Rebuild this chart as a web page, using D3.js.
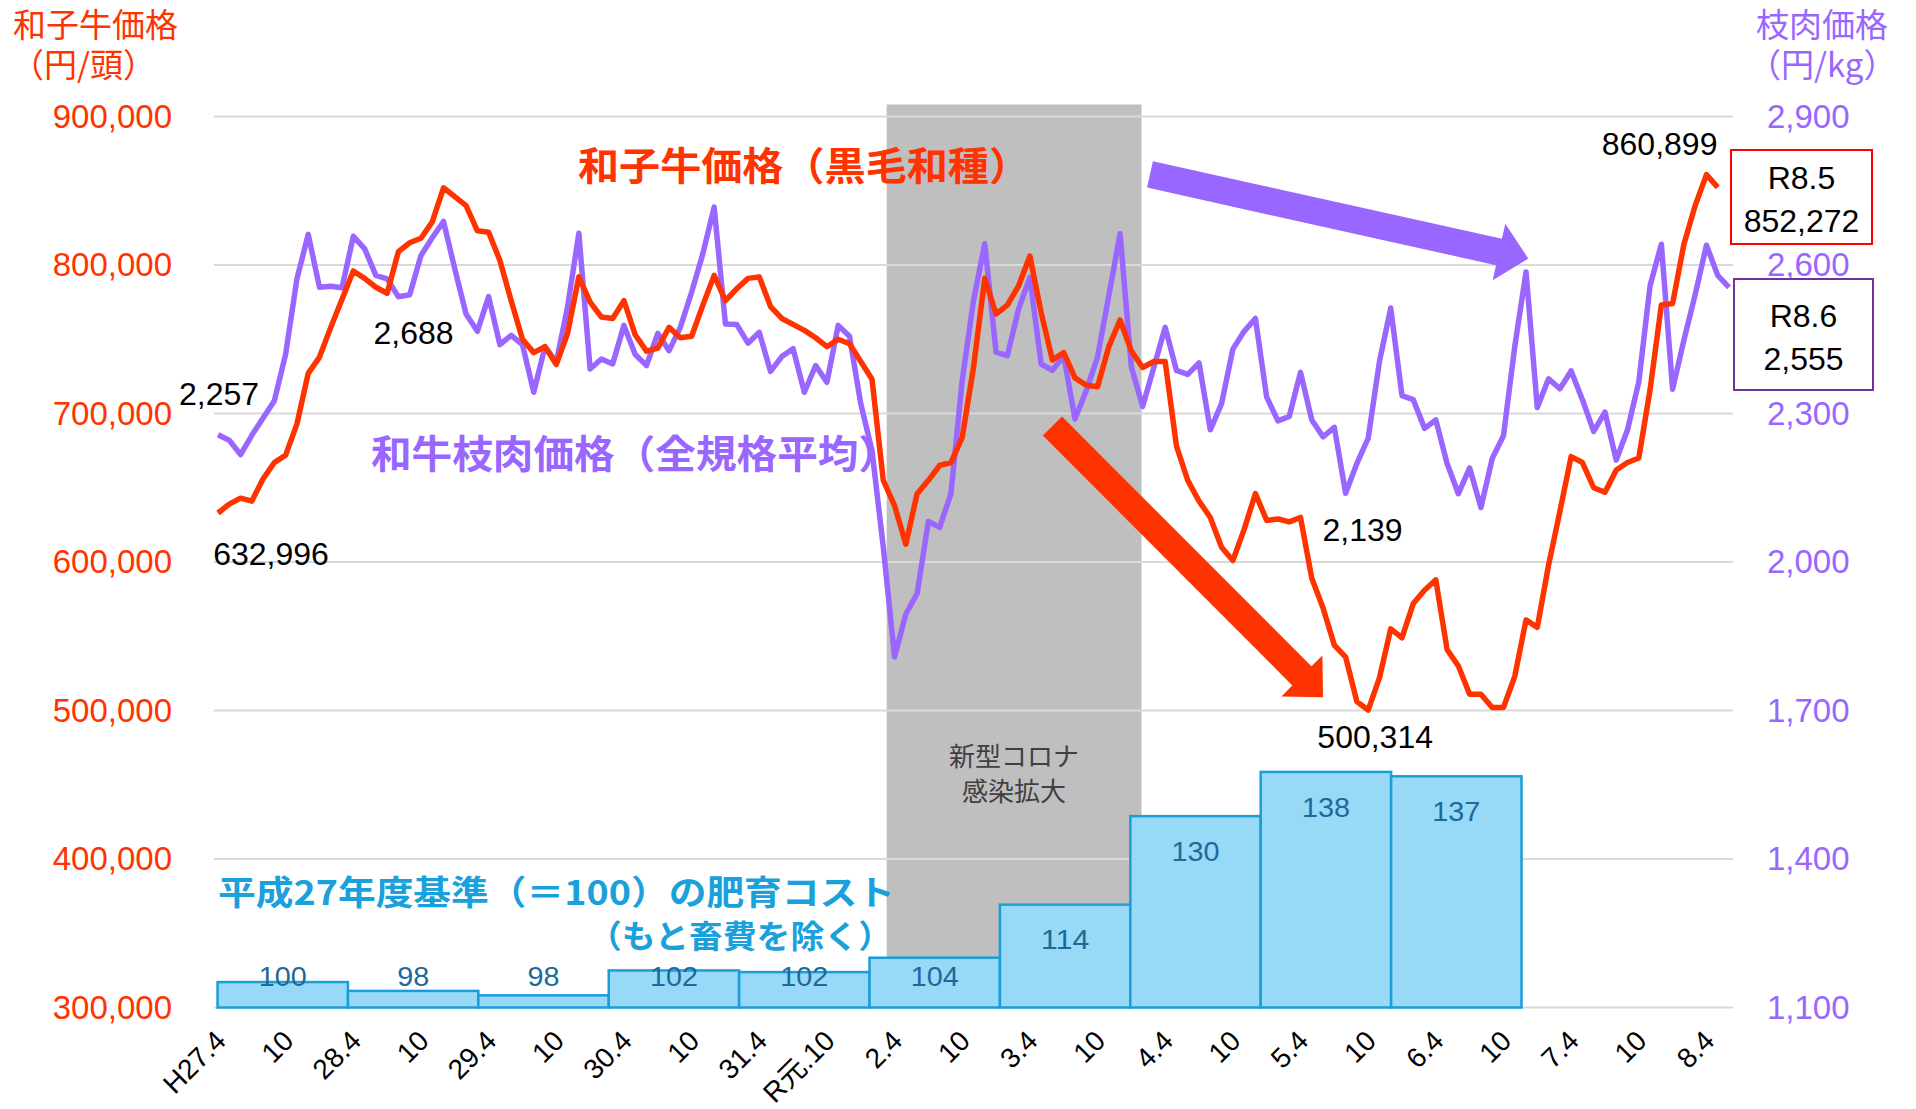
<!DOCTYPE html>
<html>
<head>
<meta charset="utf-8">
<script src="https://cdn.jsdelivr.net/npm/d3@7"></script>
<style>
  body { margin: 0; background: #fff; }
  svg { display: block; font-family: "Liberation Sans", Arial, sans-serif; }
  .jp { font-family: "Noto Sans CJK JP", sans-serif; }
</style>
</head>
<body>
<svg id="chart" width="1916" height="1109"></svg>
<script>
// 和子牛価格（黒毛和種） 円/頭, monthly from H27.4 to R8.5
const calfPrice = [
  632996, 639000, 643000, 641000, 656000, 667000, 672000, 693000, 727000, 738000,
  758000, 777000, 796000, 791000, 785000, 781000, 809000, 815000, 818000, 829000,
  852000, 846000, 840000, 823000, 822000, 803000, 776000, 750000, 741000, 745000,
  733000, 754000, 792000, 775000, 765000, 764000, 776000, 753000, 742000, 744000,
  758000, 751000, 752000, 773000, 793000, 776000, 784000, 791000, 792000, 772000,
  764000, 760000, 756000, 751000, 745000, 750000, 747000, 735000, 723000, 655000,
  638000, 612000, 646000, 655000, 665000, 667000, 684000, 731000, 791000, 767000,
  773000, 786000, 806000, 768000, 736000, 741000, 724000, 719000, 718000, 745000,
  763000, 742000, 731000, 735000, 735000, 678000, 655000, 641000, 630000, 610000,
  601000, 622000, 646000, 628000, 629000, 627000, 630000, 589000, 569000, 544000,
  536000, 506000, 500314, 522000, 555000, 549000, 572000, 581000, 588000, 541000,
  530000, 511000, 511000, 502000, 502000, 523000, 561000, 556000, 598000, 634000,
  671000, 667000, 650000, 647000, 662000, 667000, 670000, 716000, 773000, 774000,
  814000, 840000, 860899, 852272
];

// 和牛枝肉価格（全規格平均） 円/kg, monthly from H27.4 to R8.6
const carcassPrice = [
  2257, 2246, 2217, 2256, 2291, 2326, 2420, 2572, 2662, 2555,
  2557, 2554, 2658, 2633, 2579, 2572, 2536, 2540, 2619, 2655,
  2688, 2592, 2501, 2466, 2536, 2439, 2458, 2439, 2343, 2435,
  2404, 2515, 2664, 2390, 2410, 2400, 2478, 2419, 2397, 2462,
  2427, 2474, 2545, 2623, 2717, 2481, 2480, 2442, 2464, 2385,
  2415, 2431, 2343, 2397, 2363, 2478, 2456, 2320, 2225, 2030,
  1808, 1895, 1936, 2082, 2070, 2138, 2367, 2528, 2643, 2424,
  2417, 2511, 2575, 2400, 2387, 2417, 2289, 2346, 2414, 2538,
  2663, 2394, 2314, 2394, 2474, 2387, 2379, 2402, 2267, 2320,
  2430, 2466, 2492, 2333, 2285, 2294, 2383, 2287, 2253, 2272,
  2139, 2199, 2250, 2405, 2513, 2336, 2328, 2270, 2287, 2199,
  2138, 2190, 2110, 2209, 2255, 2435, 2586, 2312, 2370, 2350,
  2386, 2328, 2264, 2303, 2206, 2267, 2364, 2558, 2642, 2349,
  2448, 2540, 2640, 2579, 2555
];

// x tick labels, every 6 months from H27.4
const tickLabels = ["H27.4", "10", "28.4", "10", "29.4", "10", "30.4", "10", "31.4", "R元.10",
  "2.4", "10", "3.4", "10", "4.4", "10", "5.4", "10", "6.4", "10", "7.4", "10", "8.4"];
const tickStep = 6;

// 肥育コスト指数（平成27年度＝100）
const fiscalYears = ["H27", "H28", "H29", "H30", "R1", "R2", "R3", "R4", "R5", "R6"];
const costIndex = [100, 98.4, 97.6, 102.1, 101.8, 104.4, 114, 130, 138, 137.2];

const leftTicks = [300000, 400000, 500000, 600000, 700000, 800000, 900000];
const rightTicks = [1100, 1400, 1700, 2000, 2300, 2600, 2900];

// 新型コロナ期間（月インデックス）
const covidSpan = [59.3, 81.9];

const red = "#ff3300", purple = "#9966ff";
const plot = {left: 214, right: 1733, top: 116.5, bottom: 1007.5};

const svg = d3.select("#chart");

const x = d3.scaleLinear().domain([0, 134]).range([218, 1729]);
const yL = d3.scaleLinear().domain([300000, 900000]).range([plot.bottom, plot.top]);
const yR = d3.scaleLinear().domain([1100, 2900]).range([plot.bottom, plot.top]);
const barX = d3.scaleBand().domain(fiscalYears).range([x(-0.04), x(115.6)]);
const yBar = d3.scaleLinear().domain([95.4, 256.5]).range([plot.bottom, plot.top]);

// covid band
svg.append("rect")
    .attr("x", x(covidSpan[0]))
    .attr("y", plot.top - 12)
    .attr("width", x(covidSpan[1]) - x(covidSpan[0]))
    .attr("height", plot.bottom - plot.top + 12)
    .attr("fill", "#bfbfbf");

// grid
svg.append("g").selectAll("line")
    .data(leftTicks)
    .join("line")
    .attr("x1", plot.left).attr("x2", plot.right)
    .attr("y1", d => yL(d)).attr("y2", d => yL(d))
    .attr("stroke", "#d9d9d9").attr("stroke-width", 2);

svg.append("g").attr("class", "jp")
    .selectAll("text")
    .data(["新型コロナ", "感染拡大"])
    .join("text")
    .attr("x", x((covidSpan[0] + covidSpan[1]) / 2))
    .attr("y", (d, i) => 766 + i * 35)
    .attr("text-anchor", "middle")
    .attr("font-size", 26)
    .attr("fill", "#404040")
    .text(d => d);

// left axis
const axL = svg.append("g")
    .attr("transform", "translate(172,0)")
    .call(d3.axisLeft(yL).tickValues(leftTicks).tickFormat(d3.format(",")).tickSize(0).tickPadding(0));
axL.select(".domain").remove();
axL.selectAll("text").attr("font-size", 33).attr("fill", red)
    .attr("font-family", "Liberation Sans, Arial, sans-serif");

// right axis
const axR = svg.append("g")
    .attr("transform", "translate(1767,0)")
    .call(d3.axisRight(yR).tickValues(rightTicks).tickFormat(d3.format(",")).tickSize(0).tickPadding(0));
axR.select(".domain").remove();
axR.selectAll("text").attr("font-size", 33).attr("fill", purple)
    .attr("font-family", "Liberation Sans, Arial, sans-serif");

// bottom axis
const axB = svg.append("g")
    .attr("transform", "translate(0," + plot.bottom + ")")
    .call(d3.axisBottom(x)
      .tickValues(d3.range(0, tickLabels.length * tickStep, tickStep))
      .tickFormat((d, i) => tickLabels[i])
      .tickSize(0));
axB.select(".domain").remove();
axB.selectAll("text")
    .attr("x", 0).attr("y", 0).attr("dy", 0)
    .attr("text-anchor", "end")
    .attr("transform", "translate(9,35) rotate(-45)")
    .attr("font-size", 28).attr("fill", "#000")
    .attr("font-family", "Liberation Sans, 'Noto Sans CJK JP', sans-serif");

// cost bars
svg.append("g").selectAll("rect")
    .data(costIndex)
    .join("rect")
    .attr("x", (d, i) => barX(fiscalYears[i]))
    .attr("y", d => yBar(d))
    .attr("width", barX.bandwidth())
    .attr("height", d => plot.bottom - yBar(d))
    .attr("fill", "#97d9f6")
    .attr("stroke", "#1b9dd9")
    .attr("stroke-width", 2.5);

svg.append("g").selectAll("text")
    .data(costIndex)
    .join("text")
    .attr("x", (d, i) => barX(fiscalYears[i]) + barX.bandwidth() / 2)
    .attr("y", d => Math.min(yBar(d) + 35, plot.bottom - 31.5))
    .attr("dy", "0.35em")
    .attr("text-anchor", "middle")
    .attr("font-size", 28)
    .attr("fill", "#1c6a99")
    .attr("textLength", d => d >= 99.5 ? 48 : 32)
    .attr("lengthAdjust", "spacingAndGlyphs")
    .text(d => d3.format(".0f")(d));

// chart texts
const jpText = (t, px, py, size, color, len) => {
  const el = svg.append("text").attr("class", "jp")
      .attr("x", px).attr("y", py)
      .attr("font-size", size).attr("font-weight", 700)
      .attr("fill", color).text(t);
  if (len) el.attr("textLength", len).attr("lengthAdjust", "spacingAndGlyphs");
  return el;
};
jpText("平成27年度基準（＝100）の肥育コスト", 218, 905, 34, "#1aa0db", 677);
jpText("（もと畜費を除く）", 588, 948, 32, "#1aa0db", 304);
jpText("和子牛価格（黒毛和種）", 578, 180, 39, red, 452);
jpText("和牛枝肉価格（全規格平均）", 371, 468, 39, purple, 528);

// axis titles
[["和子牛価格", 13, 37], ["（円/頭）", 11, 77]].forEach(([t, px, py]) =>
  svg.append("text").attr("class", "jp").attr("x", px).attr("y", py)
    .attr("font-size", 33).attr("fill", red).text(t));
[["枝肉価格", 1756, 37], ["（円/kg）", 1748, 77]].forEach(([t, px, py]) =>
  svg.append("text").attr("class", "jp").attr("x", px).attr("y", py)
    .attr("font-size", 33).attr("fill", purple).text(t));

// lines
const lineL = d3.line().x((d, i) => x(i)).y(d => yL(d));
const lineR = d3.line().x((d, i) => x(i)).y(d => yR(d));

svg.append("path")
    .datum(carcassPrice)
    .attr("d", lineR)
    .attr("fill", "none").attr("stroke", purple)
    .attr("stroke-width", 5.5).attr("stroke-linejoin", "round");

svg.append("path")
    .datum(calfPrice)
    .attr("d", lineL)
    .attr("fill", "none").attr("stroke", red)
    .attr("stroke-width", 5.5).attr("stroke-linejoin", "round");

// point labels
const pointLabels = [
  {s: "L", i: 0, dx: 53, dy: 52, a: "middle"},
  {s: "R", i: 0, dx: 1, dy: -30, a: "middle"},
  {s: "R", i: 20, dx: -30, dy: 123, a: "middle"},
  {s: "R", i: 100, dx: 17, dy: 48, a: "middle"},
  {s: "L", i: 102, dx: 7, dy: 38, a: "middle"},
  {s: "L", i: 132, dx: 11, dy: -20, a: "end"}
];
svg.append("g").selectAll("text")
    .data(pointLabels)
    .join("text")
    .attr("x", d => x(d.i) + d.dx)
    .attr("y", d => (d.s === "L" ? yL(calfPrice[d.i]) : yR(carcassPrice[d.i])) + d.dy)
    .attr("text-anchor", d => d.a)
    .attr("font-size", 32)
    .attr("fill", "#000")
    .text(d => d3.format(",")(d.s === "L" ? calfPrice[d.i] : carcassPrice[d.i]));

// latest value boxes
const boxes = [
  {label: "R8.5", value: calfPrice[133], stroke: "#ff0000", bx: 1731, by: 150, bw: 141, bh: 94},
  {label: "R8.6", value: carcassPrice[134], stroke: "#7030a0", bx: 1734, by: 279, bw: 139, bh: 111}
];
boxes.forEach(b => {
  svg.append("rect")
      .attr("x", b.bx).attr("y", b.by).attr("width", b.bw).attr("height", b.bh)
      .attr("fill", "#fff").attr("stroke", b.stroke).attr("stroke-width", 2);
  const mid = b.by + b.bh / 2;
  svg.append("text").attr("x", b.bx + b.bw / 2).attr("y", mid - 8)
      .attr("text-anchor", "middle").attr("font-size", 32).text(b.label);
  svg.append("text").attr("x", b.bx + b.bw / 2).attr("y", mid + 35)
      .attr("text-anchor", "middle").attr("font-size", 32).text(d3.format(",")(b.value));
});

// trend arrows (month index, value)
const arrows = [
  {from: [74, 691600], to: [98, 509000], axis: "L", color: red},
  {from: [82.65, 2783], to: [116.2, 2613], axis: "R", color: purple}
];
function arrowPath(x1, y1, x2, y2, bw, hw, hl) {
  const len = Math.hypot(x2 - x1, y2 - y1);
  const ux = (x2 - x1) / len, uy = (y2 - y1) / len;
  const px = -uy, py = ux;
  const bx = x2 - ux * hl, by = y2 - uy * hl;
  const pts = [
    [x1 + px * bw / 2, y1 + py * bw / 2],
    [bx + px * bw / 2, by + py * bw / 2],
    [bx + px * hw / 2, by + py * hw / 2],
    [x2, y2],
    [bx - px * hw / 2, by - py * hw / 2],
    [bx - px * bw / 2, by - py * bw / 2],
    [x1 - px * bw / 2, y1 - py * bw / 2]
  ];
  return "M" + pts.map(p => p.join(",")).join("L") + "Z";
}
svg.append("g").selectAll("path")
    .data(arrows)
    .join("path")
    .attr("d", d => {
      const yy = d.axis === "L" ? yL : yR;
      return arrowPath(x(d.from[0]), yy(d.from[1]), x(d.to[0]), yy(d.to[1]), 27, 58, 30);
    })
    .attr("fill", d => d.color);
</script>
</body>
</html>
